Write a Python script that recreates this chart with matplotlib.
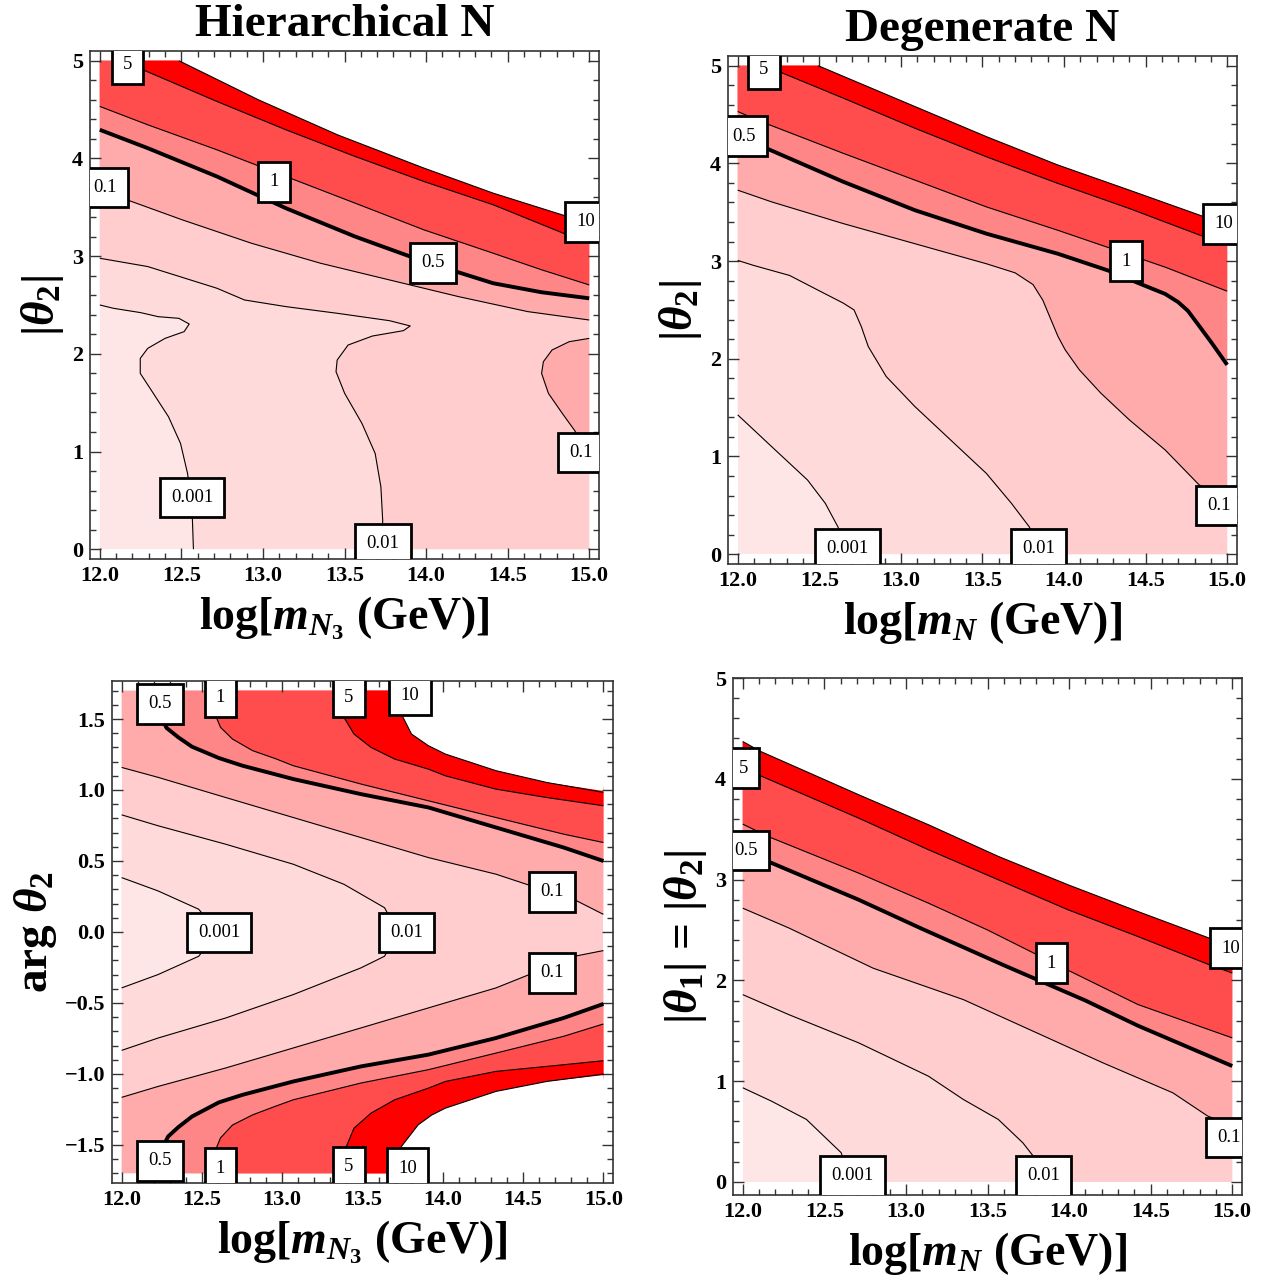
import matplotlib
matplotlib.use("Agg")
import matplotlib.pyplot as plt
from matplotlib.ticker import MultipleLocator, FuncFormatter

plt.rcParams["font.family"] = ["Liberation Serif", "DejaVu Serif"]
plt.rcParams["mathtext.fontset"] = "custom"
plt.rcParams["mathtext.rm"] = "Liberation Serif:bold"
plt.rcParams["mathtext.it"] = "Liberation Serif:italic:bold"
plt.rcParams["mathtext.bf"] = "Liberation Serif:bold"

# contour levels and the fill colour of each band (below 0.001 ... above 10)
levels = [0.001, 0.01, 0.1, 0.5, 1, 5, 10]
band_colors = ["#FFE6E6", "#FFDADA", "#FFCDCD", "#FFABAB",
               "#FF8686", "#FF4C4C", "#FF0000", "white"]

# ---------------- Hierarchical N, |theta2| vs log m_N3 ----------------
tl_0001_x = [12.0, 12.083, 12.252, 12.358, 12.485, 12.548, 12.517, 12.40, 12.294,
             12.248, 12.248, 12.315, 12.421, 12.495, 12.538, 12.565, 12.574]
tl_0001_y = [2.50, 2.466, 2.421, 2.38, 2.363, 2.305, 2.227, 2.158, 2.056,
             1.953, 1.80, 1.629, 1.356, 1.082, 0.775, 0.434, 0.0]
tl_001_x = [12.0, 12.294, 12.718, 12.887, 13.141, 13.459, 13.776, 13.903, 13.861, 13.671,
            13.522, 13.455, 13.448, 13.501, 13.607, 13.688, 13.723, 13.734, 13.734]
tl_001_y = [2.978, 2.893, 2.671, 2.551, 2.483, 2.414, 2.339, 2.285, 2.237, 2.182,
            2.09, 1.936, 1.817, 1.595, 1.287, 0.98, 0.638, 0.297, 0.0]
tl_01_x = [12.0, 12.157, 12.506, 12.929, 13.353, 13.776, 14.2, 14.623, 15.0]
tl_01_y = [3.63, 3.582, 3.371, 3.132, 2.927, 2.756, 2.585, 2.432, 2.346]
tl_01b_x = [15.0, 14.877, 14.772, 14.719, 14.708, 14.75, 14.835, 14.909, 14.97, 15.0]
tl_01b_y = [2.158, 2.124, 2.039, 1.919, 1.80, 1.595, 1.39, 1.219, 1.06, 0.95]
tl_05_x = [12.0, 12.294, 12.718, 13.141, 13.565, 13.988, 14.412, 14.708, 15.0]
tl_05_y = [4.293, 4.105, 3.815, 3.49, 3.20, 2.944, 2.722, 2.63, 2.568]
tl_1_x = [12.0, 12.294, 12.718, 13.141, 13.565, 13.988, 14.412, 14.708, 15.0]
tl_1_y = [4.532, 4.344, 4.088, 3.815, 3.542, 3.268, 3.029, 2.86, 2.705]
tl_5_x = [12.13, 12.263, 12.718, 13.141, 13.565, 13.988, 14.412, 14.867, 15.0]
tl_5_y = [5.0, 4.908, 4.583, 4.293, 4.02, 3.763, 3.525, 3.217, 3.15]
tl_10_x = [12.485, 12.972, 13.459, 13.988, 14.412, 14.867, 15.0]
tl_10_y = [5.0, 4.60, 4.24, 3.90, 3.644, 3.405, 3.34]

# ---------------- Degenerate N, |theta2| vs log m_N ----------------
tr_0001_x = [12.0, 12.208, 12.428, 12.537, 12.614, 12.68]
tr_0001_y = [1.426, 1.101, 0.759, 0.52, 0.28, 0.0]
tr_001_x = [12.0, 12.099, 12.318, 12.537, 12.647, 12.713, 12.757, 12.80, 12.91,
            13.086, 13.305, 13.524, 13.678, 13.787, 13.87]
tr_001_y = [3.007, 2.955, 2.853, 2.664, 2.57, 2.50, 2.332, 2.126, 1.819,
            1.511, 1.169, 0.827, 0.52, 0.28, 0.0]
tr_01_x = [12.0, 12.208, 12.647, 13.086, 13.524, 13.70, 13.81, 13.87, 13.92, 13.963,
           14.007, 14.094, 14.226, 14.401, 14.62, 14.829, 15.0]
tr_01_y = [3.726, 3.606, 3.384, 3.178, 2.973, 2.88, 2.76, 2.60, 2.40, 2.229,
           2.092, 1.887, 1.648, 1.374, 1.067, 0.708, 0.56]
tr_05_x = [12.0, 12.143, 12.647, 13.086, 13.524, 13.963, 14.27, 14.467, 14.62, 14.70,
           14.76, 14.80, 14.84, 14.906, 15.0]
tr_05_y = [4.25, 4.178, 3.812, 3.521, 3.281, 3.075, 2.904, 2.767, 2.664, 2.58,
           2.49, 2.40, 2.31, 2.161, 1.938]
tr_1_x = [12.0, 12.143, 12.647, 13.086, 13.524, 13.963, 14.292, 14.62, 15.0]
tr_1_y = [4.531, 4.428, 4.103, 3.829, 3.555, 3.315, 3.127, 2.938, 2.692]
tr_5_x = [12.165, 12.274, 12.647, 13.086, 13.524, 13.963, 14.401, 14.862, 15.0]
tr_5_y = [5.0, 4.925, 4.668, 4.36, 4.068, 3.795, 3.538, 3.247, 3.17]
tr_10_x = [12.493, 13.086, 13.524, 13.963, 14.401, 14.862, 15.0]
tr_10_y = [5.0, 4.582, 4.274, 3.983, 3.726, 3.452, 3.40]

# ---------------- Hierarchical N, arg theta2 vs log m_N3 ----------------
bl_0001_x = [12.0, 12.227, 12.48, 12.60, 12.48, 12.227, 12.0]
bl_0001_y = [0.383, 0.289, 0.16, 0.0, -0.171, -0.30, -0.394]
bl_001_x = [12.0, 12.227, 12.648, 13.069, 13.384, 13.637, 13.72,
            13.637, 13.49, 13.069, 12.648, 12.227, 12.0]
bl_001_y = [0.825, 0.748, 0.618, 0.477, 0.336, 0.171, 0.0,
            -0.171, -0.253, -0.441, -0.606, -0.747, -0.834]
bl_01u_x = [12.0, 12.227, 12.648, 13.069, 13.49, 13.91, 14.331, 14.836, 15.0]
bl_01u_y = [1.159, 1.089, 0.947, 0.806, 0.665, 0.524, 0.407, 0.218, 0.124]
bl_01l_x = [12.0, 12.227, 12.648, 13.069, 13.49, 13.91, 14.331, 14.826, 15.0]
bl_01l_y = [-1.165, -1.088, -0.958, -0.817, -0.676, -0.535, -0.394, -0.17, -0.131]
bl_05u_x = [12.16, 12.28, 12.353, 12.438, 12.606, 12.753, 13.069, 13.49, 13.91, 14.331, 14.752, 15.0]
bl_05u_y = [1.70, 1.437, 1.371, 1.305, 1.225, 1.171, 1.077, 0.971, 0.877, 0.736, 0.595, 0.50]
bl_05l_x = [12.17, 12.29, 12.353, 12.438, 12.606, 12.753, 13.069, 13.49, 13.91, 14.331, 14.752, 15.0]
bl_05l_y = [-1.70, -1.44, -1.375, -1.30, -1.20, -1.147, -1.053, -0.947, -0.864, -0.747, -0.606, -0.507]
bl_1u_x = [12.55, 12.585, 12.616, 12.69, 12.816, 12.964, 13.069, 13.49, 13.91, 14.331, 14.752, 15.0]
bl_1u_y = [1.70, 1.524, 1.441, 1.359, 1.277, 1.218, 1.171, 1.042, 0.924, 0.806, 0.689, 0.63]
bl_1l_x = [12.55, 12.585, 12.616, 12.69, 12.816, 12.964, 13.069, 13.49, 13.91, 14.331, 14.752, 15.0]
bl_1l_y = [-1.70, -1.535, -1.45, -1.36, -1.288, -1.225, -1.182, -1.064, -0.97, -0.853, -0.735, -0.648]
bl_5u_x = [13.33, 13.384, 13.447, 13.553, 13.70, 13.91, 14.016, 14.331, 14.647, 15.0]
bl_5u_y = [1.70, 1.512, 1.394, 1.30, 1.218, 1.147, 1.10, 1.006, 0.947, 0.889]
bl_5l_x = [13.34, 13.395, 13.447, 13.553, 13.70, 13.91, 14.016, 14.331, 14.647, 15.0]
bl_5l_y = [-1.70, -1.523, -1.382, -1.276, -1.182, -1.10, -1.053, -0.982, -0.947, -0.907]
bl_10u_x = [13.71, 13.742, 13.805, 13.91, 14.016, 14.331, 14.647, 15.0]
bl_10u_y = [1.70, 1.535, 1.394, 1.312, 1.253, 1.136, 1.053, 0.983]
bl_10l_x = [13.71, 13.742, 13.847, 13.93, 14.016, 14.331, 14.647, 15.0]
bl_10l_y = [-1.70, -1.511, -1.358, -1.29, -1.241, -1.123, -1.053, -1.001]

# ---------------- Degenerate N, |theta1| = |theta2| vs log m_N ----------------
br_0001_x = [12.0, 12.175, 12.39, 12.539, 12.603, 12.66]
br_0001_y = [0.934, 0.802, 0.62, 0.389, 0.29, 0.0]
br_001_x = [12.0, 12.282, 12.71, 13.138, 13.352, 13.566, 13.716, 13.78, 13.84]
br_001_y = [1.858, 1.66, 1.38, 1.049, 0.818, 0.62, 0.389, 0.257, 0.0]
br_01_x = [12.0, 12.282, 12.80, 13.352, 13.78, 14.208, 14.636, 14.85, 15.0]
br_01_y = [2.716, 2.52, 2.12, 1.809, 1.495, 1.181, 0.884, 0.653, 0.56]
br_05_x = [12.0, 12.154, 12.71, 13.10, 13.60, 14.10, 14.422, 15.0]
br_05_y = [3.24, 3.18, 2.80, 2.51, 2.15, 1.80, 1.55, 1.15]
br_1_x = [12.0, 12.154, 12.71, 13.138, 13.50, 13.994, 14.422, 15.0]
br_1_y = [3.55, 3.428, 3.064, 2.766, 2.50, 2.10, 1.76, 1.429]
br_5_x = [12.0, 12.107, 12.71, 13.138, 13.566, 13.994, 14.422, 14.861, 15.0]
br_5_y = [4.08, 4.031, 3.61, 3.296, 2.998, 2.70, 2.435, 2.154, 2.073]
br_10_x = [12.0, 12.107, 12.71, 13.138, 13.566, 13.994, 14.422, 14.861, 15.0]
br_10_y = [4.37, 4.273, 3.842, 3.544, 3.23, 2.948, 2.683, 2.418, 2.33]

# contour label placements (x, y, text)
tl_labels = [(12.17, 4.96, "5"), (12.03, 3.70, "0.1"), (13.07, 3.76, "1"), (14.04, 2.93, "0.5"),
             (14.98, 3.35, "10"), (14.95, 0.99, "0.1"), (12.565, 0.53, "0.001"), (13.736, 0.06, "0.01")]
tr_labels = [(12.16, 4.96, "5"), (12.04, 4.28, "0.5"), (14.98, 3.38, "10"), (14.38, 3.00, "1"),
             (14.95, 0.50, "0.1"), (12.673, 0.06, "0.001"), (13.842, 0.06, "0.01")]
bl_labels = [(12.238, 1.606, "0.5"), (12.616, 1.653, "1"), (13.416, 1.653, "5"), (13.795, 1.665, "10"),
             (12.606, -0.005, "0.001"), (13.774, -0.005, "0.01"), (14.678, 0.282, "0.1"),
             (14.678, -0.288, "0.1"), (12.238, -1.612, "0.5"), (12.616, -1.664, "1"),
             (13.416, -1.652, "5"), (13.78, -1.664, "10")]
br_labels = [(12.004, 4.107, "5"), (12.02, 3.286, "0.5"), (14.99, 2.32, "10"), (13.892, 2.172, "1"),
             (14.979, 0.439, "0.1"), (12.674, 0.06, "0.001"), (13.845, 0.06, "0.01")]

XLIM = (11.94, 15.06)

# layer = (x, y, corners used to close the polygon, band index, is thick line)
panels = [
    dict(pos=[0.0712, 0.5633, 0.4027, 0.3969], xr=(12, 15), yr=(0, 5), ylim=(-0.1, 5.1),
         base=0, ymajor=1, yminor=0.2, yfmt="%.0f", title="Hierarchical N",
         xlabel=r"log[$m_{N_3}$ (GeV)]", ylabel=r"|$\theta_2$|", labels=tl_labels,
         layers=[(tl_0001_x, tl_0001_y, ["br", "tr", "tl"], 1, False),
                 (tl_001_x, tl_001_y, ["br", "tr", "tl"], 2, False),
                 (tl_01_x, tl_01_y, ["tr", "tl"], 3, False),
                 (tl_01b_x, tl_01b_y, [], 3, False),
                 (tl_05_x, tl_05_y, ["tr", "tl"], 4, True),
                 (tl_1_x, tl_1_y, ["tr", "tl"], 5, False),
                 (tl_5_x, tl_5_y, ["tr"], 6, False),
                 (tl_10_x, tl_10_y, ["tr"], 7, False)]),
    dict(pos=[0.5759, 0.5594, 0.4027, 0.3969], xr=(12, 15), yr=(0, 5), ylim=(-0.1, 5.1),
         base=0, ymajor=1, yminor=0.2, yfmt="%.0f", title="Degenerate N",
         xlabel=r"log[$m_N$ (GeV)]", ylabel=r"|$\theta_2$|", labels=tr_labels,
         layers=[(tr_0001_x, tr_0001_y, ["br", "tr", "tl"], 1, False),
                 (tr_001_x, tr_001_y, ["br", "tr", "tl"], 2, False),
                 (tr_01_x, tr_01_y, ["tr", "tl"], 3, False),
                 (tr_05_x, tr_05_y, ["tr", "tl"], 4, True),
                 (tr_1_x, tr_1_y, ["tr", "tl"], 5, False),
                 (tr_5_x, tr_5_y, ["tr"], 6, False),
                 (tr_10_x, tr_10_y, ["tr"], 7, False)]),
    dict(pos=[0.0886, 0.0758, 0.3964, 0.3922], xr=(12, 15), yr=(-1.7, 1.7), ylim=(-1.768, 1.768),
         base=2, ymajor=0.5, yminor=0.1, yfmt="%.1f", title=None,
         xlabel=r"log[$m_{N_3}$ (GeV)]", ylabel=r"arg $\theta_2$", labels=bl_labels,
         layers=[(bl_001_x, bl_001_y, [], 1, False),
                 (bl_0001_x, bl_0001_y, [], 0, False),
                 (bl_01u_x, bl_01u_y, ["tr", "tl"], 3, False),
                 (bl_01l_x, bl_01l_y, ["br", "bl"], 3, False),
                 (bl_05u_x, bl_05u_y, ["tr"], 4, True),
                 (bl_05l_x, bl_05l_y, ["br"], 4, True),
                 (bl_1u_x, bl_1u_y, ["tr"], 5, False),
                 (bl_1l_x, bl_1l_y, ["br"], 5, False),
                 (bl_5u_x, bl_5u_y, ["tr"], 6, False),
                 (bl_5l_x, bl_5l_y, ["br"], 6, False),
                 (bl_10u_x, bl_10u_y, ["tr"], 7, False),
                 (bl_10l_x, bl_10l_y, ["br"], 7, False)]),
    dict(pos=[0.5799, 0.0664, 0.4027, 0.4039], xr=(12, 15), yr=(0, 5), ylim=(-0.13, 5.0),
         base=0, ymajor=1, yminor=0.2, yfmt="%.0f", title=None,
         xlabel=r"log[$m_N$ (GeV)]", ylabel=r"|$\theta_1$| = |$\theta_2$|", labels=br_labels,
         layers=[(br_0001_x, br_0001_y, ["br", "tr", "tl"], 1, False),
                 (br_001_x, br_001_y, ["br", "tr", "tl"], 2, False),
                 (br_01_x, br_01_y, ["tr", "tl"], 3, False),
                 (br_05_x, br_05_y, ["tr", "tl"], 4, True),
                 (br_1_x, br_1_y, ["tr", "tl"], 5, False),
                 (br_5_x, br_5_y, ["tr", "tl"], 6, False),
                 (br_10_x, br_10_y, ["tr", "tl"], 7, False)]),
]


def closed(xs, ys, corners, xr, yr):
    pos = {"bl": (xr[0], yr[0]), "br": (xr[1], yr[0]),
           "tr": (xr[1], yr[1]), "tl": (xr[0], yr[1])}
    px, py = list(xs), list(ys)
    for c in corners:
        px.append(pos[c][0])
        py.append(pos[c][1])
    return px, py


def widen(xs, ys, xr, yr, xl, yl):
    # push the ends of a boundary line out to the axes limits, so the white
    # "above 10" area fully covers the domain edge (no antialiased red seam)
    px, py = list(xs), list(ys)
    for idx, ins in ((0, 0), (-1, len(px))):
        x, y = px[idx], py[idx]
        if x == xr[0]:
            px.insert(ins, xl[0]); py.insert(ins, y)
        elif x == xr[1]:
            px.insert(ins, xl[1]); py.insert(ins, y)
        elif y == yr[1]:
            px.insert(ins, x); py.insert(ins, yl[1])
        elif y == yr[0]:
            px.insert(ins, x); py.insert(ins, yl[0])
    return px, py


def fmt(pattern):
    return FuncFormatter(lambda v, p: (pattern % v).replace("-", "\u2212"))


fig = plt.figure(figsize=(12.64, 12.80), dpi=100)

for p in panels:
    ax = fig.add_axes(p["pos"])
    xr, yr = p["xr"], p["yr"]

    # background band of the whole domain
    ax.fill([xr[0], xr[1], xr[1], xr[0]], [yr[0], yr[0], yr[1], yr[1]],
            color=band_colors[p["base"]], lw=0, zorder=1)
    for xs, ys, corners, band, thick in p["layers"]:
        if band == len(band_colors) - 1:
            wx, wy = widen(xs, ys, xr, yr, XLIM, p["ylim"])
            px, py = closed(wx, wy, corners, XLIM, p["ylim"])
        else:
            px, py = closed(xs, ys, corners, xr, yr)
        ax.fill(px, py, color=band_colors[band], lw=0, zorder=1)
    for xs, ys, corners, band, thick in p["layers"]:
        ax.plot(xs, ys, color="black", lw=2.8 if thick else 0.8, zorder=3,
                solid_joinstyle="round", solid_capstyle="butt")

    # contour labels in framed boxes
    for lx, ly, txt in p["labels"]:
        t = ax.text(lx, ly, txt, fontsize=13.5, ha="center", va="center", zorder=5,
                    bbox=dict(boxstyle="square,pad=0.6", fc="white", ec="black", lw=2.0))
        t.set_clip_box(ax.bbox)
        t.set_clip_on(True)

    ax.set_xlim(*XLIM)
    ax.set_ylim(*p["ylim"])
    ax.xaxis.set_major_locator(MultipleLocator(0.5))
    ax.xaxis.set_minor_locator(MultipleLocator(0.1))
    ax.yaxis.set_major_locator(MultipleLocator(p["ymajor"]))
    ax.yaxis.set_minor_locator(MultipleLocator(p["yminor"]))
    ax.xaxis.set_major_formatter(fmt("%.1f"))
    ax.yaxis.set_major_formatter(fmt(p["yfmt"]))
    ax.tick_params(which="both", direction="in", top=True, right=True,
                   color="#333333", width=1.0)
    ax.tick_params(which="major", length=8, labelsize=16, pad=5)
    ax.tick_params(which="minor", length=4)
    for lab in ax.get_xticklabels() + ax.get_yticklabels():
        lab.set_fontweight("bold")
    for s in ax.spines.values():
        s.set_color("#333333")
        s.set_linewidth(1.2)

    ax.set_xlabel(p["xlabel"], fontsize=33, fontweight="bold", labelpad=6)
    ax.set_ylabel(p["ylabel"], fontsize=34, fontweight="bold", labelpad=4)
    if p["title"]:
        ax.set_title(p["title"], fontsize=34, fontweight="bold", pad=11)

fig.savefig("out.png", dpi=100)
